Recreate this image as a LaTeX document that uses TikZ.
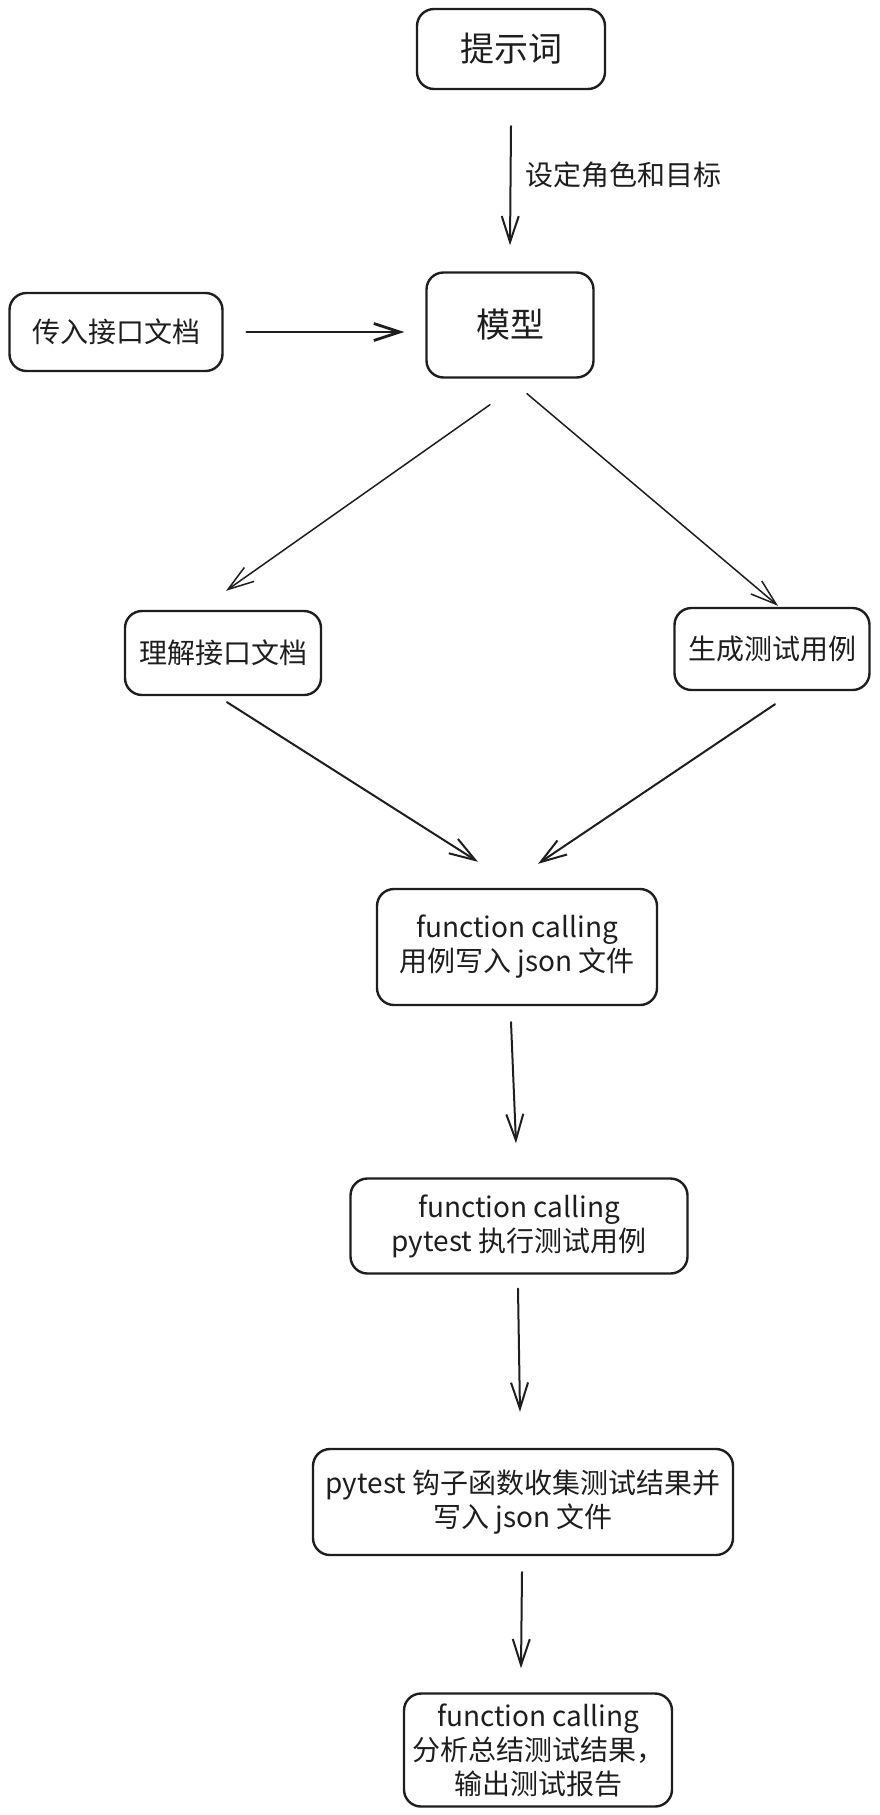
\documentclass[tikz,border=0pt]{standalone}
\usepackage{fontspec}
\setmainfont{Noto Sans CJK SC}
\usepackage{tikz}
\usetikzlibrary{arrows.meta}
\definecolor{ink}{HTML}{1E1E1E}

\begin{document}
\begin{tikzpicture}[line cap=round,line join=round,x=1pt,y=-1pt,
  >={Straight Barb[length=26pt,width=17pt]},
  box/.style={draw=ink,line width=2.4pt,rounded corners=17pt,inner sep=0pt,align=center,text=ink,font=\fontsize{28}{34}\selectfont},
  bigbox/.style={box,font=\fontsize{34}{40}\selectfont},
  flow/.style={->,draw=ink,line width=2pt}]
\useasboundingbox (0,0) rectangle (880,1815);
\node[bigbox,minimum width=188pt,minimum height=80pt] (prompt) at (511,49) {提示词};
\node[bigbox,minimum width=167pt,minimum height=105pt] (model) at (510,325) {模型};
\node[box,minimum width=213pt,minimum height=78pt] (doc) at (116,332) {传入接口文档};
\node[box,minimum width=196pt,minimum height=84pt] (understand) at (223,653) {理解接口文档};
\node[box,minimum width=195pt,minimum height=82pt] (gencase) at (772,649) {生成测试用例};
\node[box,minimum width=280pt,minimum height=116pt] (fc1) at (517,947) {function calling\\用例写入 json 文件};
\node[box,minimum width=337pt,minimum height=95pt] (fc2) at (519,1226) {function calling\\pytest 执行测试用例};
\node[box,minimum width=420pt,minimum height=106pt] (hook) at (523,1502) {pytest 钩子函数收集测试结果并\\写入 json 文件};
\node[box,minimum width=268pt,minimum height=113pt] (fc3) at (538,1750) {function calling\\分析总结测试结果，\\输出测试报告};
\draw[flow] ([yshift=-36pt]prompt.south) -- ([yshift=26pt]model.north) node[pos=0.41,right=14pt,inner sep=0pt,text=ink,font=\fontsize{28}{34}\selectfont] (goal) {设定角色和目标};
\draw[flow,line width=2.8pt,shorten <=23pt,shorten >=21pt] (doc.east) -- (doc.east -| model.west);
\draw[flow,line width=1.5pt] ([xshift=-20pt,yshift=-26pt]model.south) -- ([xshift=3pt,yshift=19pt]understand.north);
\draw[flow,line width=1.5pt] ([xshift=17pt,yshift=-15pt]model.south) -- ([xshift=6pt,yshift=1pt]gencase.north);
\draw[flow] ([xshift=4pt,yshift=-6pt]understand.south) -- ([xshift=-39pt,yshift=26pt]fc1.north);
\draw[flow] ([xshift=3pt,yshift=-13pt]gencase.south) -- ([xshift=21pt,yshift=24pt]fc1.north);
\draw[flow] ([xshift=-6pt,yshift=-16pt]fc1.south) -- ([xshift=-3pt,yshift=34pt]fc2.north);
\draw[flow] ([xshift=-1pt,yshift=-14pt]fc2.south) -- ([xshift=-3pt,yshift=36pt]hook.north);
\draw[flow] ([xshift=-1pt,yshift=-16pt]hook.south) -- ([xshift=-17pt,yshift=24pt]fc3.north);
\end{tikzpicture}
\end{document}
